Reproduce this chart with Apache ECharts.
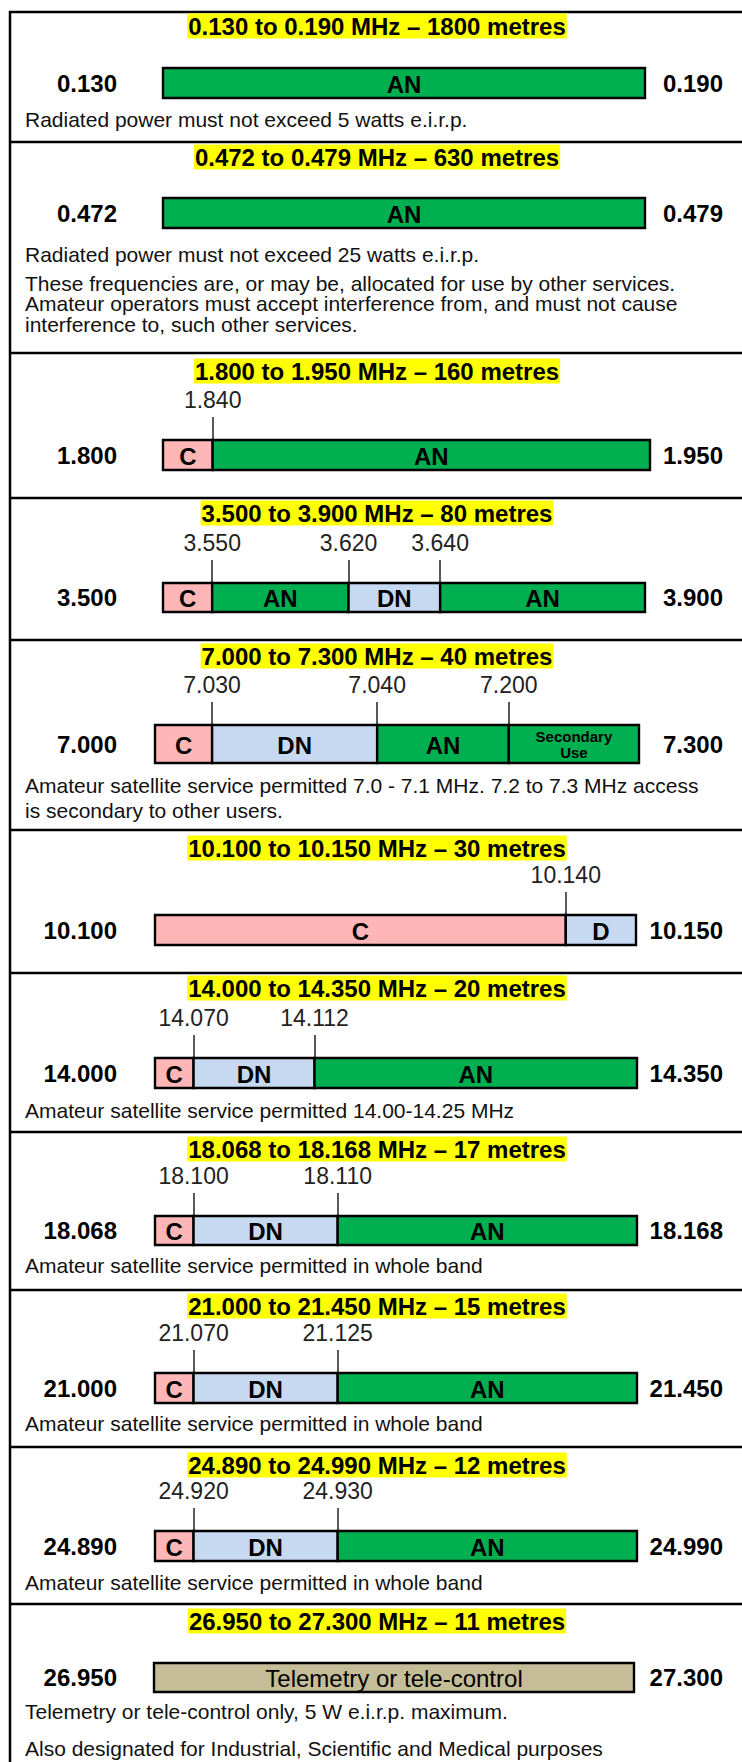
<!DOCTYPE html>
<html>
<head>
<meta charset="utf-8">
<script src="https://cdn.jsdelivr.net/npm/echarts@6.0.0/dist/echarts.min.js"></script>
<style>
html,body{margin:0;padding:0;background:#fff;}
#chart{width:742px;height:1762px;}
</style>
</head>
<body>
<div id="chart"></div>
<script>
// ---------------- DATA ----------------
const bandTitles = [
  '0.130 to 0.190 MHz \u2013 1800 metres',
  '0.472 to 0.479 MHz \u2013 630 metres',
  '1.800 to 1.950 MHz \u2013 160 metres',
  '3.500 to 3.900 MHz \u2013 80 metres',
  '7.000 to 7.300 MHz \u2013 40 metres',
  '10.100 to 10.150 MHz \u2013 30 metres',
  '14.000 to 14.350 MHz \u2013 20 metres',
  '18.068 to 18.168 MHz \u2013 17 metres',
  '21.000 to 21.450 MHz \u2013 15 metres',
  '24.890 to 24.990 MHz \u2013 12 metres',
  '26.950 to 27.300 MHz \u2013 11 metres'
];
const lowEdges  = ['0.130','0.472','1.800','3.500','7.000','10.100','14.000','18.068','21.000','24.890','26.950'];
const highEdges = ['0.190','0.479','1.950','3.900','7.300','10.150','14.350','18.168','21.450','24.990','27.300'];
// segment boundaries in % of the drawn (schematic) bar width
const segBounds = [
  [0,100],
  [0,100],
  [0,10.2,100],
  [0,10.2,38.5,57.5,100],
  [0,11.8,45.9,73.1,100],
  [0,85.4,100],
  [0,8.0,33.1,100],
  [0,8.0,37.9,100],
  [0,8.0,37.9,100],
  [0,8.0,37.9,100],
  [0,100]
];
const segCodes = [
  ['AN'],
  ['AN'],
  ['C','AN'],
  ['C','AN','DN','AN'],
  ['C','DN','AN','SEC'],
  ['C','D'],
  ['C','DN','AN'],
  ['C','DN','AN'],
  ['C','DN','AN'],
  ['C','DN','AN'],
  ['TEL']
];
const segNames = {C:'C', AN:'AN', DN:'DN', D:'D', SEC:'Secondary\nUse', TEL:'Telemetry or tele-control'};
// frequency labels of the inner boundaries
const tickLabels = [
  [], [], ['1.840'], ['3.550','3.620','3.640'], ['7.030','7.040','7.200'], ['10.140'],
  ['14.070','14.112'], ['18.100','18.110'], ['21.070','21.125'], ['24.920','24.930'], []
];
const notes = [
  ['Radiated power must not exceed 5 watts e.i.r.p.'],
  ['Radiated power must not exceed 25 watts e.i.r.p.',
   'These frequencies are, or may be, allocated for use by other services.',
   'Amateur operators must accept interference from, and must not cause',
   'interference to, such other services.'],
  [], [],
  ['Amateur satellite service permitted 7.0 - 7.1 MHz. 7.2 to 7.3 MHz access',
   'is secondary to other users.'],
  [],
  ['Amateur satellite service permitted 14.00-14.25 MHz'],
  ['Amateur satellite service permitted in whole band'],
  ['Amateur satellite service permitted in whole band'],
  ['Amateur satellite service permitted in whole band'],
  ['Telemetry or tele-control only, 5 W e.i.r.p. maximum.',
   'Also designated for Industrial, Scientific and Medical purposes']
];

// ---------------- LAYOUT / STYLE ----------------
const FONT = "'Liberation Sans', Arial, Helvetica, sans-serif";
const barBox = [ // left, top, right, height
  [163,68,645,30],[163,198,645,30],[163,440,650,30],[163,583,645,29],
  [155,725,639,38],[155,915,636,30],[155,1058,637,30],[155,1216,637,29],
  [155,1373,637,30],[155,1531,637,30],[154,1663,634,29]
];
const titleY = [26,157,371,513,656,848,988,1149,1306,1465,1621];
const noteY = [[119],[254,283,303.5,324],[],[],[785,810],[],[1110],[1265],[1423],[1582],[1711,1748]];
const sepY = [12,142,353,498,640,830,973,1132,1290,1447,1604];
const segStyle = {
  C:   {fill:'#FFB6B6', font:'bold 24px '+FONT},
  AN:  {fill:'#00B050', font:'bold 24px '+FONT},
  DN:  {fill:'#C6D9F1', font:'bold 24px '+FONT},
  D:   {fill:'#C6D9F1', font:'bold 24px '+FONT},
  SEC: {fill:'#00B050', font:'bold 15px '+FONT},
  TEL: {fill:'#C4BD97', font:'24px '+FONT}
};

// ---------------- BUILD ----------------
const grids = [], xAxes = [], yAxes = [], series = [], graphics = [];

sepY.forEach(y => graphics.push({type:'line', silent:true,
  shape:{x1:9, y1:y, x2:742, y2:y}, style:{stroke:'#000', lineWidth:2.5}}));
graphics.push({type:'line', silent:true, shape:{x1:10, y1:11, x2:10, y2:1762}, style:{stroke:'#000', lineWidth:2.5}});

bandTitles.forEach((t, i) => {
  graphics.push({type:'text', x:377, y:titleY[i], silent:true, z:10,
    style:{text:t, font:'bold 24px '+FONT, fill:'#000', align:'center', verticalAlign:'middle',
      textAlign:'center', textVerticalAlign:'middle', backgroundColor:'#FFFF00', padding:[1,1,0,1]}});
  notes[i].forEach((n, k) => graphics.push({type:'text', x:25, y:noteY[i][k], silent:true,
    style:{text:n, font:'21px '+FONT, fill:'#111', align:'left', verticalAlign:'middle',
      textAlign:'left', textVerticalAlign:'middle'}}));
});

function makeRender(i) {
  return function (params, api) {
    const x0 = api.coord([api.value(0), 0])[0];
    const x1 = api.coord([api.value(1), 0])[0];
    const cs = params.coordSys;
    const code = segCodes[i][api.value(3)];
    const st = segStyle[code];
    return {type:'group', children:[
      {type:'rect', shape:{x:x0, y:cs.y, width:x1-x0, height:cs.height},
        style:{fill:st.fill, stroke:'#000', lineWidth:2.4}},
      {type:'text', style:{text:segNames[code], x:(x0+x1)/2, y:cs.y+cs.height/2 + (code==='SEC'?0:1),
        align:'center', verticalAlign:'middle', textAlign:'center', textVerticalAlign:'middle',
        font:st.font, fill:'#000', lineHeight:16}}
    ]};
  };
}

bandTitles.forEach((t, i) => {
  const [L, T, R, H] = barBox[i];
  grids.push({left:L, top:T, width:R-L, height:H, containLabel:false, outerBoundsMode:'none'});
  const inner = segBounds[i].slice(1, -1);
  const hasTicks = tickLabels[i].length > 0;
  xAxes.push({
    type:'value', gridIndex:i, min:0, max:100, position:'top',
    axisLine:{show:false}, splitLine:{show:false},
    axisTick:{show:hasTicks, customValues:inner, length:23, lineStyle:{color:'#222', width:1.5}},
    axisLabel:{show:hasTicks, customValues:inner, margin:29, fontSize:23, fontFamily:FONT, color:'#222',
      formatter: v => { let best = 0, d = 1e9; inner.forEach((b, k) => { if (Math.abs(b - v) < d) { d = Math.abs(b - v); best = k; } }); return tickLabels[i][best] || ''; }}
  });
  yAxes.push({type:'category', gridIndex:i, data:[lowEdges[i]], position:'left',
    axisLine:{show:false}, axisTick:{show:false}, splitLine:{show:false},
    axisLabel:{margin:L-117, fontSize:24, fontWeight:'bold', fontFamily:FONT, color:'#000', align:'right'}});
  yAxes.push({type:'category', gridIndex:i, data:[highEdges[i]], position:'right',
    axisLine:{show:false}, axisTick:{show:false}, splitLine:{show:false},
    axisLabel:{margin:723-R, fontSize:24, fontWeight:'bold', fontFamily:FONT, color:'#000', align:'right'}});
  series.push({type:'custom', coordinateSystem:'cartesian2d', xAxisIndex:i, yAxisIndex:i*2,
    renderItem:makeRender(i), silent:true,
    data:segCodes[i].map((c, k) => [segBounds[i][k], segBounds[i][k+1], 0, k]),
    encode:{x:[0,1], y:2}});
});

const chart = echarts.init(document.getElementById('chart'), null, {renderer:'svg', width:742, height:1762});
chart.setOption({
  animation:false,
  backgroundColor:'#fff',
  textStyle:{fontFamily:FONT},
  grid:grids, xAxis:xAxes, yAxis:yAxes, series:series, graphic:graphics
});
</script>
</body>
</html>
